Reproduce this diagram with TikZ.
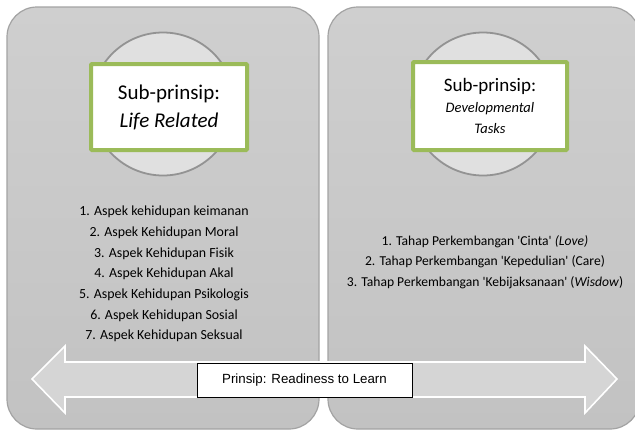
\documentclass[tikz,border=0pt]{standalone}
\usepackage{fontspec}
\setmainfont{Carlito}
\newfontfamily\arialfont{Liberation Sans}
\usetikzlibrary{positioning}

\definecolor{panelgrey}{HTML}{CFCFCF}
\definecolor{paneldark}{HTML}{C2C2C2}
\definecolor{paneledge}{HTML}{A3A3A3}
\definecolor{discgrey}{HTML}{E0E0E0}
\definecolor{discedge}{HTML}{939393}
\definecolor{leafgreen}{HTML}{9BBB59}
\definecolor{arrowgrey}{HTML}{D5D5D5}

\newcommand{\q}{\textquotesingle}

\tikzset{
  panel/.style={draw=paneledge, line width=1.2pt, rounded corners=30pt,
    top color=panelgrey, bottom color=paneldark, minimum width=312pt, minimum height=422pt},
  disc/.style={circle, draw=discedge, line width=1.8pt, fill=discgrey, minimum size=143pt},
  subbox/.style={draw=leafgreen, line width=4pt, fill=white, rounded corners=1pt,
    align=center, inner sep=0pt},
  items/.style={align=center, font=\fontsize{13.9}{20.7}\selectfont},
}

\begin{document}
\begin{tikzpicture}[x=1pt, y=-1pt]
  \useasboundingbox[fill=white] (0,0) rectangle (635,431);
  % two panels
  \node[panel] (left) at (163,218) {};
  \node[panel] (right) at (484,218) {};
  % discs behind the sub-principles
  \node[disc] (ldisc) at (163,104) {};
  \node[disc] (rdisc) at (483,104) {};
  \node[subbox, minimum width=156pt, minimum height=86pt,
    font=\fontsize{21}{28}\selectfont] (lbox) at (169,107)
    {Sub-prinsip:\\ \itshape Life Related};
  \node[subbox, minimum width=154pt, minimum height=88pt,
    font=\fontsize{14.5}{21}\selectfont] (rbox) at (490,106)
    {{\fontsize{19}{21}\selectfont Sub-prinsip:}\\ \itshape Developmental\\ \itshape Tasks};
  % aspects and stages
  \node[items] (aspects) at (164,274) {1. Aspek kehidupan keimanan\\ 2. Aspek Kehidupan Moral\\
    3. Aspek Kehidupan Fisik\\ 4. Aspek Kehidupan Akal\\ 5. Aspek Kehidupan Psikologis\\
    6. Aspek Kehidupan Sosial\\ 7. Aspek Kehidupan Seksual};
  \node[items, font=\fontsize{13.6}{20.7}\selectfont] (stages) at (485,262)
    {1. Tahap Perkembangan \q Cinta\q{} \textit{(Love)}\\
    2. Tahap Perkembangan \q Kepedulian\q{} (Care)\\
    3. Tahap Perkembangan \q Kebijaksanaan\q{} (\textit{Wisdow})};
  % double arrow across both panels
  \draw[white, line width=1.6pt, fill=arrowgrey, line join=miter]
    (32,379) -- (65,346) -- (65,362) -- (585,362) -- (585,346) -- (617,379)
    -- (585,413) -- (585,397) -- (65,397) -- (65,413) -- cycle;
  \node[draw=black, line width=0.8pt, fill=white, minimum width=215pt, minimum height=34pt,
    font=\arialfont\fontsize{13.3}{16}\selectfont] (principle) at (304.5,380) {Prinsip: Readiness to Learn};
\end{tikzpicture}
\end{document}
